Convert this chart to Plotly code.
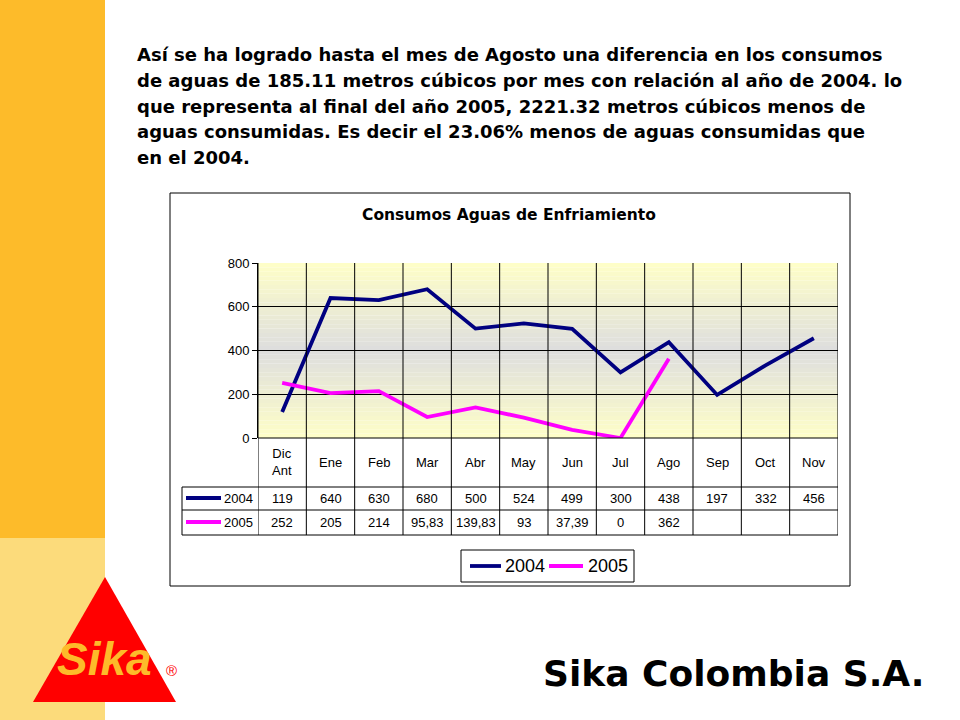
import plotly.graph_objects as go

W, H = 960, 720
def px(x): return x / W
def py(y): return 1 - y / H

months = ["Dic<br>Ant", "Ene", "Feb", "Mar", "Abr", "May", "Jun", "Jul", "Ago", "Sep", "Oct", "Nov"]
s2004 = [119, 640, 630, 680, 500, 524, 499, 300, 438, 197, 332, 456]
s2005 = [252, 205, 214, 95.83, 139.83, 93, 37.39, 0, 362, None, None, None]
yticks = [0, 200, 400, 600, 800]

chart_title = "Consumos Aguas de Enfriamiento"
body_lines = [
    "Así se ha logrado hasta el mes de Agosto una diferencia en los consumos",
    "de aguas de 185.11 metros cúbicos por mes con relación al año de 2004. lo",
    "que representa al final del año 2005, 2221.32 metros cúbicos menos de",
    "aguas consumidas. Es decir el 23.06% menos de aguas consumidas que",
    "en el 2004.",
]
company = "Sika Colombia S.A."

C2004 = "#000080"
C2005 = "#FF00FF"
NARROW = "Liberation Sans Narrow, Arial Narrow, Liberation Sans, Arial, sans-serif"
ARIAL = "Liberation Sans, Arial, sans-serif"
WIDE = "DejaVu Sans, Verdana, sans-serif"

def fmt(v):
    if v is None:
        return ""
    if float(v).is_integer():
        return str(int(v))
    return ("%g" % v).replace(".", ",")

# plot area pixels
PL, PR, PT, PB = 258, 838, 263, 438
ROW1, ROW2, ROW3 = 487, 510, 535
TL = 182

x = list(range(len(months)))
fig = go.Figure()
fig.add_trace(go.Scatter(x=x, y=s2004, mode="lines", line=dict(color=C2004, width=3.8), name="2004"))
fig.add_trace(go.Scatter(x=x, y=s2005, mode="lines", line=dict(color=C2005, width=3.8), name="2005"))

shapes = []
ann = []
# left strip
shapes.append(dict(type="rect", xref="paper", yref="paper", x0=0, x1=px(105), y0=py(538), y1=1,
                   fillcolor="#FDBB2A", line=dict(width=0), layer="below"))
shapes.append(dict(type="rect", xref="paper", yref="paper", x0=0, x1=px(105), y0=0, y1=py(538),
                   fillcolor="#FCDB7B", line=dict(width=0), layer="below"))
# chart box
shapes.append(dict(type="rect", xref="paper", yref="paper", x0=px(170), x1=px(850), y0=py(586), y1=py(193),
                   fillcolor="white", line=dict(color="black", width=1), layer="below"))
# gradient bands
n = 40
for i in range(n):
    y0 = 800 * i / n
    y1 = 800 * (i + 1) / n
    t = abs(((y0 + y1) / 2 - 400) / 400)  # 1 at edges, 0 at middle
    top = (255, 255, 200)
    mid = (222, 222, 222)
    c = tuple(int(mid[k] + (top[k] - mid[k]) * t) for k in range(3))
    shapes.append(dict(type="rect", xref="x", yref="y", x0=-0.5, x1=11.5, y0=y0, y1=y1,
                       fillcolor="rgb(%d,%d,%d)" % c, line=dict(width=0), layer="below"))
# vertical lines
for i in range(len(months) + 1):
    shapes.append(dict(type="line", xref="x", yref="paper", x0=i - 0.5, x1=i - 0.5,
                       y0=py(ROW3), y1=py(PT), line=dict(color="black", width=1)))
# horizontal table lines
shapes.append(dict(type="line", xref="paper", yref="paper", x0=px(PL), x1=px(PR), y0=py(PB), y1=py(PB),
                   line=dict(color="black", width=1)))
for yy in (ROW1, ROW2, ROW3):
    shapes.append(dict(type="line", xref="paper", yref="paper", x0=px(TL), x1=px(PR), y0=py(yy), y1=py(yy),
                       line=dict(color="black", width=1)))
shapes.append(dict(type="line", xref="paper", yref="paper", x0=px(TL), x1=px(TL), y0=py(ROW3), y1=py(ROW1),
                   line=dict(color="black", width=1)))
# row keys
for (yc, col, lab) in ((498, C2004, "2004"), (522, C2005, "2005")):
    shapes.append(dict(type="line", xref="paper", yref="paper", x0=px(186), x1=px(221), y0=py(yc), y1=py(yc),
                       line=dict(color=col, width=3.8)))
    ann.append(dict(text=lab, xref="paper", yref="paper", x=px(222), y=py(yc), xanchor="left", yanchor="middle",
                    showarrow=False, font=dict(family=NARROW, size=13, color="black")))
# header & values
for i, m in enumerate(months):
    ann.append(dict(text=m, xref="x", yref="paper", x=i, y=py(462), xanchor="center", yanchor="middle",
                    showarrow=False, font=dict(family=NARROW, size=13, color="black")))
    ann.append(dict(text=fmt(s2004[i]), xref="x", yref="paper", x=i, y=py(498), xanchor="center", yanchor="middle",
                    showarrow=False, font=dict(family=NARROW, size=13, color="black")))
    ann.append(dict(text=fmt(s2005[i]), xref="x", yref="paper", x=i, y=py(522), xanchor="center", yanchor="middle",
                    showarrow=False, font=dict(family=NARROW, size=13, color="black")))
# legend box
shapes.append(dict(type="rect", xref="paper", yref="paper", x0=px(461), x1=px(634), y0=py(582), y1=py(550),
                   fillcolor="white", line=dict(color="black", width=1)))
for (x0, x1, tx, col, lab) in ((470, 501, 503, C2004, "2004"), (549, 583, 586, C2005, "2005")):
    shapes.append(dict(type="line", xref="paper", yref="paper", x0=px(x0), x1=px(x1), y0=py(566), y1=py(566),
                       line=dict(color=col, width=3.8)))
    ann.append(dict(text=lab, xref="paper", yref="paper", x=px(tx), y=py(566), xanchor="left", yanchor="middle",
                    showarrow=False, font=dict(family=NARROW, size=18, color="black")))
# chart title
ann.append(dict(text="<b>" + chart_title + "</b>", xref="paper", yref="paper", x=px(509), y=py(215),
                xanchor="center", yanchor="middle", showarrow=False,
                font=dict(family=WIDE, size=15.5, color="black")))
# body text
for k, line in enumerate(body_lines):
    ann.append(dict(text="<b>" + line + "</b>", xref="paper", yref="paper", x=px(135), y=py(55 + 25.5 * k),
                    xanchor="left", yanchor="middle", showarrow=False,
                    font=dict(family=WIDE, size=18, color="black")))
# company name
ann.append(dict(text="<b>" + company + "</b>", xref="paper", yref="paper", x=px(541), y=py(673),
                xanchor="left", yanchor="middle", showarrow=False,
                font=dict(family=WIDE, size=36, color="black")))
# Sika logo
shapes.append(dict(type="path", xref="paper", yref="paper",
                   path="M %f %f L %f %f L %f %f Z" % (px(105), py(577), px(33), py(702), px(176), py(702)),
                   fillcolor="#FF0000", line=dict(width=0)))
ann.append(dict(text="<b><i>Sika</i></b>", xref="paper", yref="paper", x=px(104), y=py(659),
                xanchor="center", yanchor="middle", showarrow=False,
                font=dict(family=ARIAL, size=46, color="#FDBB2A")))
ann.append(dict(text="®", xref="paper", yref="paper", x=px(171), y=py(670),
                xanchor="center", yanchor="middle", showarrow=False,
                font=dict(family=ARIAL, size=15, color="#FF0000")))

fig.update_layout(
    width=W, height=H, margin=dict(l=0, r=0, t=0, b=0, pad=0, autoexpand=False),
    paper_bgcolor="white", plot_bgcolor="rgba(0,0,0,0)",
    showlegend=False, shapes=shapes, annotations=ann,
    xaxis=dict(domain=[px(PL), px(PR)], range=[-0.5, 11.5], showgrid=False, showticklabels=False,
               zeroline=False, showline=False, ticks="", automargin=False),
    yaxis=dict(domain=[py(PB), py(PT)], range=[0, 800], tickvals=yticks, showgrid=True, gridcolor="black",
               gridwidth=1, zeroline=False, showline=True, linecolor="black", ticks="outside", ticklen=5,
               tickcolor="black", tickfont=dict(family=NARROW, size=13, color="black"), automargin=False),
)
fig.write_html("out.html", config={"displayModeBar": False},
               post_script="document.body.style.margin='0';document.body.style.padding='0';")
